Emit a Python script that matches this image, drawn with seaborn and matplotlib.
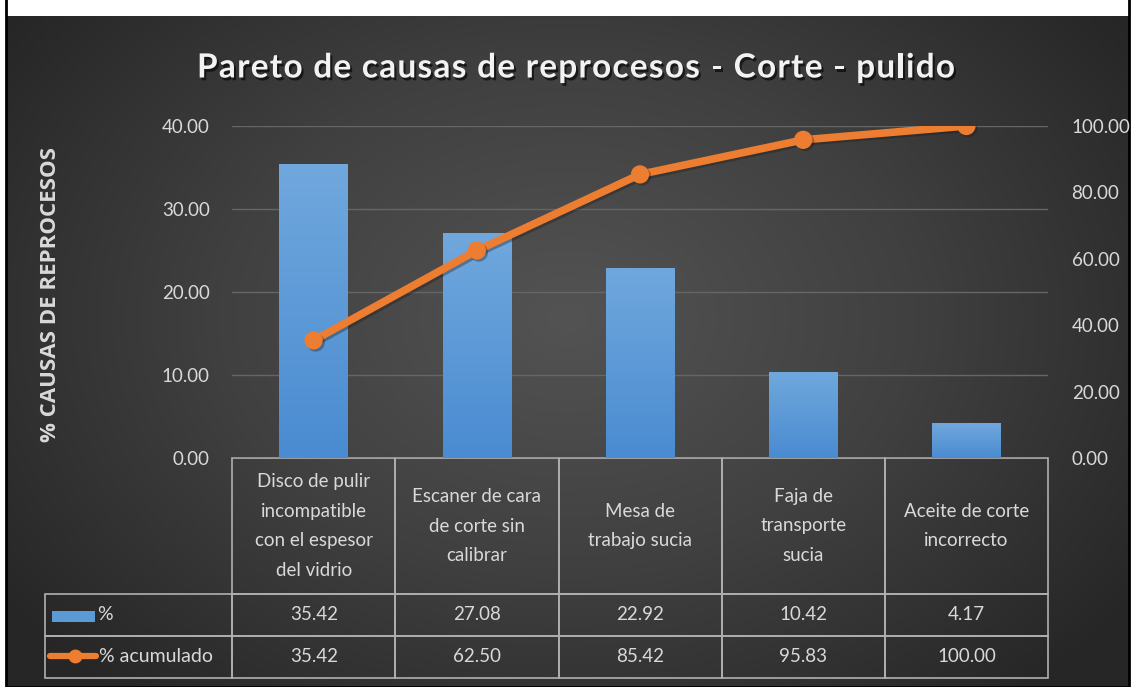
import numpy as np
import matplotlib
matplotlib.use("Agg")
import matplotlib.pyplot as plt
import seaborn as sns
from matplotlib import patheffects as pe
from matplotlib.colors import LinearSegmentedColormap
from matplotlib.lines import Line2D
from matplotlib.patches import Rectangle
from matplotlib.ticker import FormatStrFormatter

# ---------------------------- data ----------------------------
causes = ["Disco de pulir\nincompatible\ncon el espesor\ndel vidrio",
          "Escaner de cara\nde corte sin\ncalibrar",
          "Mesa de\ntrabajo sucia",
          "Faja de\ntransporte\nsucia",
          "Aceite de corte\nincorrecto"]
pct = [35.42, 27.08, 22.92, 10.42, 4.17]
acum = [35.42, 62.50, 85.42, 95.83, 100.00]
left_ticks = [0, 10, 20, 30, 40]
right_ticks = [0, 20, 40, 60, 80, 100]
row_names = ["%", "% acumulado"]

title = "Pareto de causas de reprocesos - Corte - pulido"
ylabel = "% CAUSAS DE REPROCESOS"

BLUE = "#5b9bd5"
ORANGE = "#ed7d31"
TXT = "#d9d9d9"
GRID = "#666666"

W, H = 1132, 687


def fx(px):
    return px / W


def fy(py):
    return 1 - py / H


sns.set_theme(style="white")
plt.rcParams["font.family"] = ["Lato", "DejaVu Sans"]
plt.rcParams["image.composite_image"] = False

fig = plt.figure(figsize=(W / 100, H / 100), dpi=100, facecolor="white")

# ---------------------------- background ----------------------------
bg = fig.add_axes([fx(6), 0, fx(1123), (H - 16) / H])
bg.set_zorder(-5)
bg.set_axis_off()
xx, yy = np.meshgrid(np.linspace(0, 1, 400), np.linspace(0, 1, 300))
dist = np.sqrt(((xx - 0.5) / 0.62) ** 2 + ((yy - 0.55) / 0.75) ** 2)
dist = np.clip(dist, 0, 1)
bg_cmap = LinearSegmentedColormap.from_list("bg", ["#535353", "#404040", "#262626"])
bg.imshow(dist, cmap=bg_cmap, aspect="auto", extent=[0, 1, 0, 1], origin="lower")
bg.add_patch(Rectangle((0, 0), 1, 1.2, transform=bg.transAxes, fill=False,
                       edgecolor="black", lw=2, clip_on=False))

# ---------------------------- main plot ----------------------------
ax = fig.add_axes([fx(232), fy(458), fx(1048) - fx(232), (458 - 126) / H])
ax.patch.set_visible(False)

sns.barplot(x=causes, y=pct, color=BLUE, width=0.42, saturation=1,
            edgecolor="none", linewidth=0, ax=ax)

# vertical gradient on each bar (lighter on top)
bar_cmap = LinearSegmentedColormap.from_list("bar", ["#4a8bd1", "#70a8dd"])
grad = np.linspace(0, 1, 100).reshape(-1, 1)
for p in ax.patches:
    x0, y0 = p.get_x(), p.get_y()
    w, h = p.get_width(), p.get_height()
    im = ax.imshow(grad, cmap=bar_cmap, aspect="auto", origin="lower",
                   extent=[x0, x0 + w, y0, y0 + h], zorder=p.get_zorder() + 0.1)
    im.set_clip_path(p)

ax.set_xlim(-0.5, len(causes) - 0.5)
ax.set_ylim(0, 40)
ax.set_yticks(left_ticks)
ax.yaxis.set_major_formatter(FormatStrFormatter("%.2f"))
ax.yaxis.grid(True, color=GRID, lw=1)
ax.set_axisbelow(True)
ax.tick_params(axis="y", length=0, pad=16, labelcolor=TXT, labelsize=13.5)
ax.set_xlabel("")
ax.set_ylabel("")
for s in ax.spines.values():
    s.set_visible(False)

ax2 = ax.twinx()
sns.pointplot(x=causes, y=acum, color=ORANGE, markersize=9, linewidth=5.5, ax=ax2)
for ln in ax2.lines:
    ln.set_path_effects([pe.SimpleLineShadow(offset=(1.5, -1.5), alpha=0.35), pe.Normal()])
ax2.set_ylim(0, 100)
ax2.set_yticks(right_ticks)
ax2.yaxis.set_major_formatter(FormatStrFormatter("%.2f"))
ax2.tick_params(axis="y", length=0, pad=17, labelcolor=TXT, labelsize=13.5)
ax2.set_ylabel("")
ax2.set_xlabel("")
ax2.grid(False)
for s in ax2.spines.values():
    s.set_visible(False)
ax.tick_params(axis="x", length=0, labelbottom=False)

# ---------------------------- data table ----------------------------
cell_text = [[""] + [f"{v:.2f}" for v in pct], [""] + [f"{v:.2f}" for v in acum]]
tbl = ax.table(cellText=cell_text, colLabels=[""] + causes, cellLoc="center",
               bbox=[(45 - 232) / 816, (458 - 678) / 332, (1048 - 45) / 816, (678 - 458) / 332])
tbl.auto_set_font_size(False)
for (r, c), cell in tbl.get_celld().items():
    cell.set_edgecolor("#b0b0b0")
    cell.set_linewidth(1.2)
    cell.set_facecolor("none")
    cell.get_text().set_color(TXT)
    cell.get_text().set_fontsize(13.5)
    cell.set_width(187 if c == 0 else 163)
    if r == 0:
        cell.set_height(136)
        cell.get_text().set_linespacing(1.9)
    else:
        cell.set_height(42)
tbl[0, 0].visible_edges = ""

# legend keys inside the table
fig.patches.append(Rectangle((fx(52), fy(622)), fx(95) - fx(52), (622 - 611) / H,
                             transform=fig.transFigure, facecolor=BLUE, edgecolor="none", zorder=5))
fig.text(fx(97), fy(615), row_names[0], color=TXT, fontsize=14, va="center", ha="left")
fig.lines.append(Line2D([fx(50), fx(96)], [fy(656), fy(656)], transform=fig.transFigure,
                        color=ORANGE, lw=4.5, zorder=5))
fig.lines.append(Line2D([fx(75)], [fy(656)], transform=fig.transFigure, color=ORANGE,
                        marker="o", markersize=9, zorder=6))
fig.text(fx(99), fy(657), row_names[1], color=TXT, fontsize=14, va="center", ha="left")

# ---------------------------- title with letter spacing ----------------------------
renderer = fig.canvas.get_renderer()
title_kw = dict(color="#f2f2f2", fontsize=24, fontweight="bold", va="center", ha="left",
                path_effects=[pe.withSimplePatchShadow(offset=(1.5, -2), shadow_rgbFace="black", alpha=0.6)])
chars = []
for ch in title:
    t = fig.text(0, fy(68), ch, **title_kw)
    wpx = t.get_window_extent(renderer).width if ch != " " else None
    chars.append([t, wpx])
space_w = fig.text(0, 0, "a a", fontsize=24, fontweight="bold").get_window_extent(renderer).width \
    - fig.text(0, 0, "aa", fontsize=24, fontweight="bold").get_window_extent(renderer).width
fig.texts[-1].remove()
fig.texts[-1].remove()
for c in chars:
    if c[1] is None:
        c[1] = space_w
total = sum(c[1] for c in chars)
target = 955 - 197
track = (target - total) / (len(chars) - 1)
xpos = 197.0
for t, wpx in chars:
    t.set_x(fx(xpos))
    xpos += wpx + track

fig.text(fx(51), fy(294), ylabel, color=TXT, fontsize=16, fontweight="bold",
         family=["Open Sans", "DejaVu Sans"], rotation=90, ha="center", va="center")

fig.savefig("out.png", dpi=100, facecolor="white")
